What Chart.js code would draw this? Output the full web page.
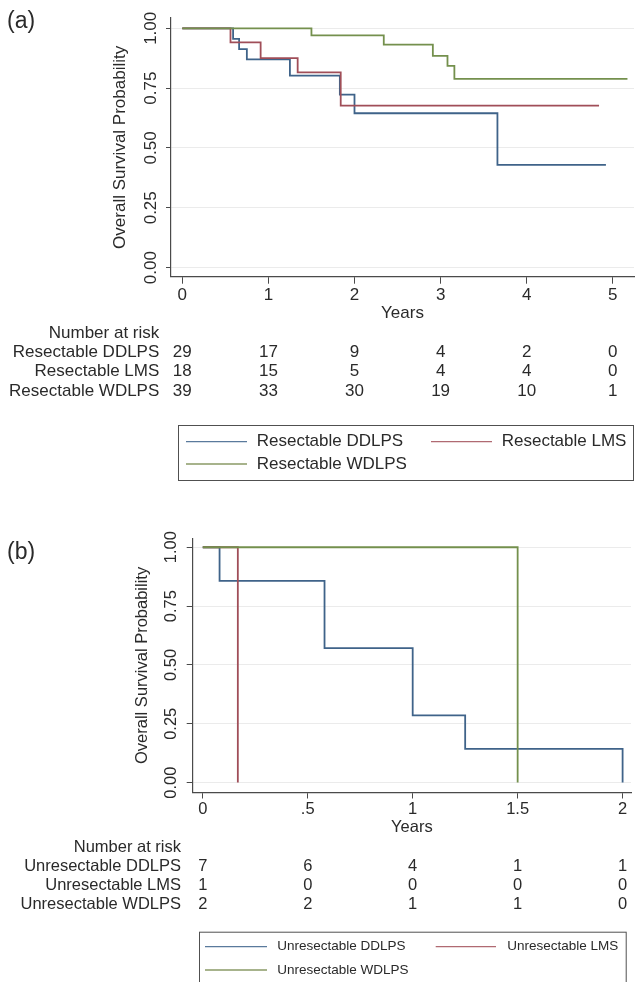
<!DOCTYPE html>
<html><head><meta charset="utf-8">
<script src="https://cdn.jsdelivr.net/npm/chart.js@4/dist/chart.umd.min.js"></script>
<style>
html,body{margin:0;padding:0;background:#fff;}
#wrap{position:relative;width:636px;height:982px;overflow:hidden;background:#fff;}
canvas{position:absolute;left:0;}
</style></head><body>
<div id="wrap">
<canvas id="ca" width="636" height="490" style="top:0px"></canvas>
<canvas id="cb" width="636" height="492" style="top:490px"></canvas>
</div>
<script>
// ---------- Panel (a): resectable ----------
const timeA_DDLPS = [0, 0.59, 0.66, 0.75, 1.25, 1.83, 2.0, 3.66, 4.92];
const survA_DDLPS = [1, 0.956, 0.913, 0.870, 0.802, 0.723, 0.645, 0.429, 0.429];
const timeA_LMS   = [0, 0.56, 0.91, 1.34, 1.84, 4.84];
const survA_LMS   = [1, 0.941, 0.875, 0.816, 0.677, 0.677];
const timeA_WDLPS = [0, 1.5, 2.34, 2.91, 3.08, 3.16, 5.17];
const survA_WDLPS = [1, 0.970, 0.932, 0.885, 0.843, 0.789, 0.789];
const xTicksA = [0, 1, 2, 3, 4, 5];
const xTickLabelsA = ['0', '1', '2', '3', '4', '5'];
const riskTimesA = [0, 1, 2, 3, 4, 5];
const riskA_DDLPS = [29, 17, 9, 4, 2, 0];
const riskA_LMS   = [18, 15, 5, 4, 4, 0];
const riskA_WDLPS = [39, 33, 30, 19, 10, 1];
const namesA = ['Resectable DDLPS', 'Resectable LMS', 'Resectable WDLPS'];

// ---------- Panel (b): unresectable ----------
const timeB_DDLPS = [0, 0.08, 0.58, 1.0, 1.25, 2.0];
const survB_DDLPS = [1, 0.857, 0.571, 0.286, 0.143, 0];
const timeB_LMS   = [0, 0.167];
const survB_LMS   = [1, 0];
const timeB_WDLPS = [0, 1.5];
const survB_WDLPS = [1, 0];
const xTicksB = [0, 0.5, 1, 1.5, 2];
const xTickLabelsB = ['0', '.5', '1', '1.5', '2'];
const riskTimesB = [0, 0.5, 1, 1.5, 2];
const riskB_DDLPS = [7, 6, 4, 1, 1];
const riskB_LMS   = [1, 0, 0, 0, 0];
const riskB_WDLPS = [2, 2, 1, 1, 0];
const namesB = ['Unresectable DDLPS', 'Unresectable LMS', 'Unresectable WDLPS'];

// shared
const yTicks = [0, 0.25, 0.5, 0.75, 1];
const yTickLabels = ['0.00', '0.25', '0.50', '0.75', '1.00'];

const FONT = '"Liberation Sans", Arial, Helvetica, sans-serif';
const TEXT = '#2a2a2a';
const AXIS = '#4a4a4a';
const COLORS = ['#3f6389', '#a04e58', '#74904d'];
const LEGCOLORS = ['#5a7a9c', '#b06a72', '#8a9a66'];

function pts(t, s) { return t.map((v, i) => ({x: v, y: s[i]})); }

function makeChart(canvasId, P) {
  const datasets = P.series.map((s, i) => ({
    label: P.names[i],
    data: pts(s[0], s[1]),
    borderColor: COLORS[i],
    borderWidth: 1.8,
    pointRadius: 0,
    stepped: 'before',
    fill: false,
    order: 2 - i
  }));
  const plugin = {
    id: 'km_' + canvasId,
    afterDraw(chart) {
      const ctx = chart.ctx, xs = chart.scales.x, ca = chart.chartArea;
      ctx.save();
      ctx.fillStyle = TEXT;
      ctx.textBaseline = 'middle';
      // panel label
      ctx.font = P.panelFs + 'px ' + FONT;
      ctx.textAlign = 'left';
      ctx.fillText(P.panel, P.panelX, P.panelY);
      // x axis title
      ctx.font = P.fs + 'px ' + FONT;
      ctx.textAlign = 'center';
      ctx.fillText('Years', (ca.left + ca.right) / 2, P.titleY);
      // number at risk table
      ctx.textAlign = 'right';
      ctx.fillText('Number at risk', P.tableRight, P.tableY0);
      P.risk.forEach((row, i) => {
        const y = P.tableY0 + (i + 1) * P.rowH;
        ctx.textAlign = 'right';
        ctx.fillText(P.names[i], P.tableRight, y);
        ctx.textAlign = 'center';
        row.forEach((v, j) => ctx.fillText(String(v), xs.getPixelForValue(P.riskTimes[j]), y));
      });
      // legend
      const L = P.legend;
      ctx.strokeStyle = '#505050';
      ctx.lineWidth = 1;
      ctx.strokeRect(L.x0 + 0.5, L.y0 + 0.5, L.x1 - L.x0, L.y1 - L.y0);
      ctx.font = L.fs + 'px ' + FONT;
      ctx.textAlign = 'left';
      const slots = [[L.c1s, L.c1e, L.c1t, L.r1], [L.c2s, L.c2e, L.c2t, L.r1], [L.c1s, L.c1e, L.c1t, L.r2]];
      slots.forEach((sl, i) => {
        ctx.strokeStyle = LEGCOLORS[i];
        ctx.lineWidth = 1.3;
        ctx.beginPath();
        ctx.moveTo(sl[0], sl[3]);
        ctx.lineTo(sl[1], sl[3]);
        ctx.stroke();
        ctx.fillStyle = TEXT;
        ctx.fillText(P.names[i], sl[2], sl[3]);
      });
      ctx.restore();
    }
  };
  return new Chart(document.getElementById(canvasId), {
    type: 'line',
    data: {datasets},
    options: {
      responsive: false,
      animation: false,
      devicePixelRatio: 1,
      layout: {padding: {left: 0, right: P.padRight, top: P.padTop, bottom: 0}},
      plugins: {legend: {display: false}, tooltip: {enabled: false}},
      scales: {
        x: {
          type: 'linear',
          min: P.xMin, max: P.xMax,
          afterFit: s => { s.height = P.xAxisH; },
          afterBuildTicks: s => { s.ticks = P.xTicks.map(v => ({value: v})); },
          ticks: {
            autoSkip: false, maxRotation: 0, minRotation: 0,
            padding: P.xTickPad, color: TEXT,
            font: {family: FONT, size: P.fs},
            callback: (v) => P.xTickLabels[P.xTicks.indexOf(v)]
          },
          grid: {drawOnChartArea: false, drawTicks: true, tickLength: P.xTickLen, tickColor: AXIS, tickWidth: 1},
          border: {display: true, color: AXIS, width: 1.2}
        },
        y: {
          type: 'linear',
          min: P.yMin, max: P.yMax,
          afterFit: s => { s.width = P.yAxisW; },
          afterBuildTicks: s => { s.ticks = yTicks.map(v => ({value: v})); },
          ticks: {
            autoSkip: false, minRotation: 90, maxRotation: 90,
            crossAlign: 'center', padding: P.yTickPad, color: TEXT,
            font: {family: FONT, size: P.fs},
            callback: (v) => yTickLabels[yTicks.indexOf(v)]
          },
          grid: {drawOnChartArea: true, color: '#ebebeb', lineWidth: 1, drawTicks: true, tickLength: P.yTickLen, tickColor: AXIS},
          border: {display: true, color: AXIS, width: 1.2},
          title: {
            display: true, text: 'Overall Survival Probability', color: TEXT,
            font: {family: FONT, size: P.fs}, padding: {top: P.yTitlePad, bottom: 0}
          }
        }
      }
    },
    plugins: [plugin]
  });
}

makeChart('ca', {
  panel: '(a)', panelFs: 23, panelX: 7, panelY: 22,
  names: namesA,
  series: [[timeA_DDLPS, survA_DDLPS], [timeA_LMS, survA_LMS], [timeA_WDLPS, survA_WDLPS]],
  risk: [riskA_DDLPS, riskA_LMS, riskA_WDLPS], riskTimes: riskTimesA,
  xTicks: xTicksA, xTickLabels: xTickLabelsA,
  fs: 17,
  xMin: -0.131, xMax: 5.246, yMin: -0.038, yMax: 1.043,
  padTop: 18, padRight: 2, yAxisW: 171, xAxisH: 213.3,
  xTickPad: 1.6, xTickLen: 7, yTickPad: -2.2, yTickLen: 5, yTitlePad: 110.5,
  titleY: 313.3, tableRight: 159.3, tableY0: 333.3, rowH: 19.2,
  legend: {x0: 178, y0: 425, x1: 633, y1: 480, fs: 17,
           c1s: 186, c1e: 247, c1t: 256.7, c2s: 431, c2e: 492, c2t: 501.7, r1: 441.7, r2: 464}
});

makeChart('cb', {
  panel: '(b)', panelFs: 23, panelX: 7, panelY: 63,
  names: namesB,
  series: [[timeB_DDLPS, survB_DDLPS], [timeB_LMS, survB_LMS], [timeB_WDLPS, survB_WDLPS]],
  risk: [riskB_DDLPS, riskB_LMS, riskB_WDLPS], riskTimes: riskTimesB,
  xTicks: xTicksB, xTickLabels: xTickLabelsB,
  fs: 16.5,
  xMin: -0.048, xMax: 2.04, yMin: -0.042, yMax: 1.038,
  padTop: 48.3, padRight: 5, yAxisW: 192.7, xAxisH: 189.5,
  xTickPad: 0.9, xTickLen: 6, yTickPad: -1.05, yTickLen: 6, yTitlePad: 132.8,
  titleY: 337.7, tableRight: 181, tableY0: 357.7, rowH: 18.9,
  legend: {x0: 199, y0: 441.7, x1: 625.7, y1: 520, fs: 13.5,
           c1s: 205, c1e: 267, c1t: 277.3, c2s: 435.7, c2e: 496, c2t: 507.3, r1: 456.7, r2: 480}
});
</script>
</body></html>
